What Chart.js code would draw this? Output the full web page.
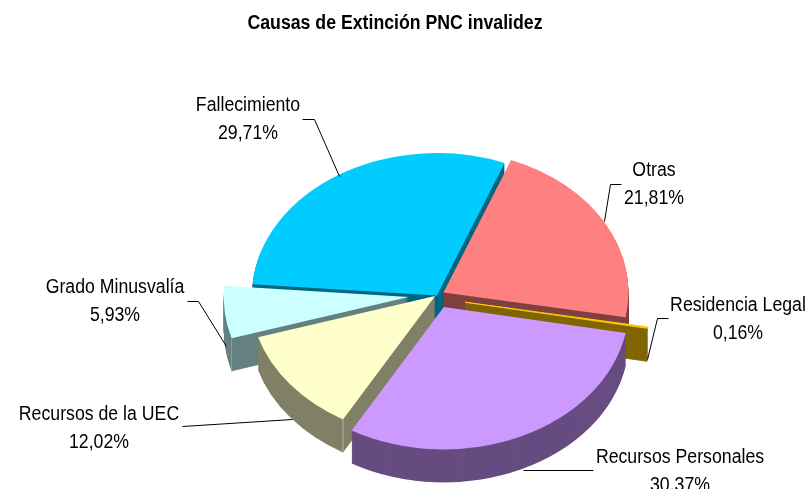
<!DOCTYPE html>
<html><head><meta charset="utf-8">
<style>html,body{margin:0;padding:0;background:#fff;overflow:hidden}canvas{display:block}</style>
<script src="https://cdn.jsdelivr.net/npm/chart.js@4"></script>
</head><body><canvas id="c" width="807" height="489"></canvas>
<script>
const categories = ['Fallecimiento','Otras','Residencia Legal','Recursos Personales','Recursos de la UEC','Grado Minusvalía'];
const values = [29.71,21.81,0.16,30.37,12.02,5.93];
const colors = ['#00CCFF','#FF8080','#FFCC00','#CC99FF','#FFFFCC','#CCFFFF'];
const wallColors = ['#006680','#804040','#806600','#664C80','#808066','#668080'];
const explode = [3,8,27,15,3,30];
const nudgeX = [0,-2,0,-1,-1,0];
const nudgeY = [0,-2,1,-1,-3,-3];
const cornerLight = ['', '', '', '', '#B4B4A0', '#8CA0A0'];
const drawOrder = [0,1,5,2,4,3];
const titleText = 'Causas de Extinción PNC invalidez';
const labelCenters = [[248,105],[654,170],[738,305],[680,457],[99,414],[115,287]];
const leaders = [
 [[302,119],[314,119],[339,176]],
 [[621,184],[610,184],[604,221]],
 [[668,318],[657,318],[647,359]],
 [[593,470],[523,470]],
 [[182,426],[292,419]],
 [[187,301],[198,301],[226,346]]
];
const center = [438.5,297.5], squash = 0.77, depth = 33, radius = 185, lineGap = 28;
const condense = 0.885;
const fontFamily = '"Liberation Sans", Arial, sans-serif';

const pie3d = {
  id:'pie3d',
  beforeDraw(chart){
    const tb = chart.titleBlock;
    if(tb && !tb._wrapped){
      const base = tb.draw;
      tb._wrapped = true;
      tb.draw = function(){
        const ctx = chart.ctx, cx = chart.width/2 - 8.5;
        ctx.save(); ctx.translate(cx,0); ctx.scale(condense,1); ctx.translate(-chart.width/2,0);
        base.call(tb);
        ctx.restore();
      };
    }
  },
  beforeDatasetDraw(chart,args){
    const ctx = chart.ctx, arcs = args.meta.data;
    const place = (arc,i,dy)=>{
      const half = (arc.startAngle+arc.endAngle)/2;
      ctx.translate(center[0]+nudgeX[i],center[1]+nudgeY[i]+dy);
      ctx.scale(1,squash);
      ctx.translate(Math.cos(half)*explode[i]-arc.x,Math.sin(half)*explode[i]-arc.y);
    };
    drawOrder.forEach(i=>{
      const arc = arcs[i], orig = arc.options;
      const thin = values[i] < 1;
      const dark = Object.create(orig);
      dark.backgroundColor = wallColors[i];
      if(thin){ dark.borderWidth = 1; dark.borderColor = wallColors[i]; }
      arc.options = dark;
      for(let d=depth;d>=1;d--){ ctx.save(); place(arc,i,d); arc.draw(ctx); ctx.restore(); }
      if(thin){
        const top = Object.create(orig);
        top.borderWidth = 1; top.borderColor = colors[i];
        arc.options = top;
      } else arc.options = orig;
      ctx.save(); place(arc,i,0); arc.draw(ctx); ctx.restore();
      arc.options = orig;
      if(cornerLight[i]){
        const half = (arc.startAngle+arc.endAngle)/2;
        const x = center[0]+nudgeX[i]+Math.cos(half)*explode[i]+Math.cos(arc.startAngle)*arc.outerRadius;
        const y = center[1]+nudgeY[i]+squash*(Math.sin(half)*explode[i]+Math.sin(arc.startAngle)*arc.outerRadius);
        ctx.save(); ctx.strokeStyle = cornerLight[i]; ctx.lineWidth = 1;
        ctx.beginPath(); ctx.moveTo(x,y); ctx.lineTo(x,y+depth); ctx.stroke(); ctx.restore();
      }
    });
    return false;
  },
  afterDraw(chart){
    const ctx = chart.ctx;
    ctx.save();
    ctx.strokeStyle='#000'; ctx.lineWidth=1;
    leaders.forEach(l=>{ ctx.beginPath(); l.forEach((p,i)=> i?ctx.lineTo(p[0]+.5,p[1]+.5):ctx.moveTo(p[0]+.5,p[1]+.5)); ctx.stroke(); });
    ctx.fillStyle='#000'; ctx.font='20px '+fontFamily; ctx.textAlign='center'; ctx.textBaseline='middle';
    categories.forEach((c,i)=>{
      const [x,y]=labelCenters[i];
      ctx.save(); ctx.translate(x,y); ctx.scale(condense,1);
      ctx.fillText(c,0,0);
      ctx.fillText(values[i].toFixed(2).replace('.',',')+'%',0,lineGap);
      ctx.restore();
    });
    ctx.restore();
  }
};

new Chart(document.getElementById('c'),{
  type:'pie',
  data:{labels:categories,datasets:[{data:values,backgroundColor:colors,borderWidth:0,clip:false}]},
  options:{
    responsive:false,animation:false,rotation:-85.5,radius:radius,
    layout:{padding:0},
    events:[],
    plugins:{
      legend:{display:false},tooltip:{enabled:false},
      title:{display:true,text:titleText,color:'#000',font:{family:fontFamily,size:20,weight:'bold'},padding:{top:11,bottom:0}}
    }
  },
  plugins:[pie3d]
});
</script></body></html>
